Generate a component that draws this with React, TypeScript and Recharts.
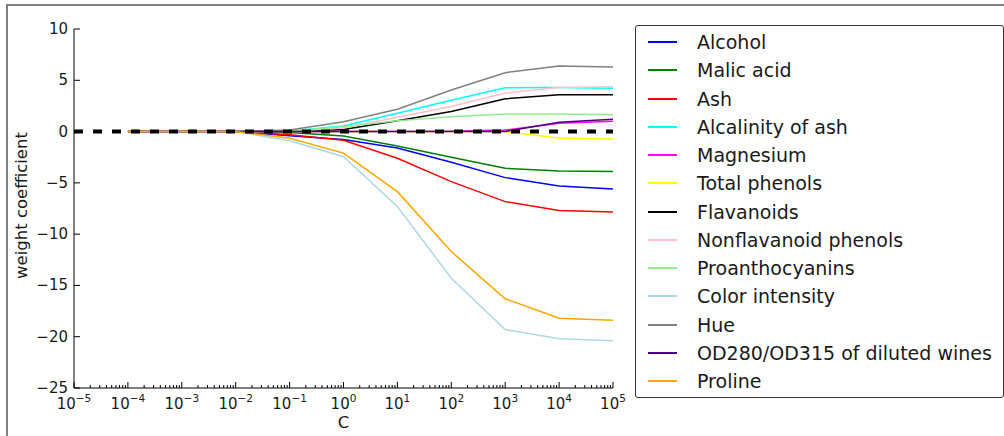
import { Label, Legend, Line, LineChart, ReferenceLine, XAxis, YAxis } from 'recharts';

// regularisation strength C = 10^exp
const exponents = [-4, -3, -2, -1, 0, 1, 2, 3, 4, 5];

const alcohol = [0, 0, 0, -0.4, -0.78, -1.6, -3.0, -4.49, -5.3, -5.6];
const malicAcid = [0, 0, 0, -0.1, -0.43, -1.4, -2.5, -3.58, -3.84, -3.9];
const ash = [0, 0, 0, -0.3, -0.85, -2.6, -4.88, -6.83, -7.7, -7.84];
const alcalinity = [0, 0, 0, 0.05, 0.55, 1.78, 3.05, 4.28, 4.3, 4.22];
const magnesium = [0, 0, 0, 0, 0, 0, 0.02, 0.15, 0.8, 1.0];
const totalPhenols = [0, 0, 0, 0, 0, 0, 0, -0.02, -0.62, -0.72];
const flavanoids = [0, 0, 0, 0, 0.2, 1.05, 1.95, 3.2, 3.58, 3.58];
const nonflavanoid = [0, 0, 0, 0.03, 0.35, 1.4, 2.45, 3.75, 4.3, 4.38];
const proanthocyanins = [0, 0, 0, 0.05, 0.48, 1.06, 1.45, 1.72, 1.72, 1.65];
const colorIntensity = [0, 0, 0, -0.9, -2.45, -7.3, -14.3, -19.3, -20.2, -20.4];
const hue = [0, 0, 0, 0.15, 0.95, 2.17, 4.05, 5.74, 6.39, 6.3];
const od280 = [0, 0, 0, 0, 0, 0, 0, 0, 0.9, 1.2];
const proline = [0, 0, 0, -0.65, -2.1, -5.86, -11.7, -16.3, -18.2, -18.4];

const featureNames = [
  'Alcohol',
  'Malic acid',
  'Ash',
  'Alcalinity of ash',
  'Magnesium',
  'Total phenols',
  'Flavanoids',
  'Nonflavanoid phenols',
  'Proanthocyanins',
  'Color intensity',
  'Hue',
  'OD280/OD315 of diluted wines',
  'Proline',
];
const featureColors = [
  'blue',
  'green',
  'red',
  'cyan',
  'magenta',
  'yellow',
  'black',
  'pink',
  'lightgreen',
  'lightblue',
  'gray',
  'indigo',
  'orange',
];
const featureWeights = [
  alcohol,
  malicAcid,
  ash,
  alcalinity,
  magnesium,
  totalPhenols,
  flavanoids,
  nonflavanoid,
  proanthocyanins,
  colorIntensity,
  hue,
  od280,
  proline,
];

const xMajorTicks = [-5, -4, -3, -2, -1, 0, 1, 2, 3, 4, 5];
const xMinorTicks = xMajorTicks
  .slice(0, -1)
  .flatMap((n) => [2, 3, 4, 5, 6, 7, 8, 9].map((k) => n + Math.log10(k)));
const xTicks = [...xMajorTicks, ...xMinorTicks];
const yTicks = [-25, -20, -15, -10, -5, 0, 5, 10];

const data = exponents.map((e, i) => {
  const row: Record<string, number> = { exp: e };
  featureWeights.forEach((w, j) => {
    row['f' + j] = w[i];
  });
  return row;
});

const FONT = 'DejaVu Sans';
const INK = '#1a1a1a';

const isMajor = (v: number) => Math.abs(v - Math.round(v)) < 1e-9;

function BottomTick({ x, y, payload }: any) {
  const major = isMajor(payload.value);
  const exp = Math.round(payload.value);
  return (
    <g>
      <line x1={x} y1={y} x2={x} y2={y - (major ? 6 : 3)} stroke="#000" />
      {major && (
        <text x={x} y={y + 20.5} textAnchor="middle" fontFamily={FONT} fontSize={15} fill={INK}>
          10
          <tspan dy={-7} fontSize={10.5}>
            {exp < 0 ? '\u2212' + Math.abs(exp) : String(exp)}
          </tspan>
        </text>
      )}
    </g>
  );
}

function TopTick({ x, y, payload }: any) {
  const major = isMajor(payload.value);
  return <line x1={x} y1={y} x2={x} y2={y + (major ? 6 : 3)} stroke="#000" />;
}

function LeftTick({ x, y, payload }: any) {
  const v = payload.value as number;
  return (
    <g>
      <line x1={x} y1={y} x2={x + 6} y2={y} stroke="#000" />
      <text x={x - 6} y={y + 5} textAnchor="end" fontFamily={FONT} fontSize={15} fill={INK}>
        {v < 0 ? '\u2212' + Math.abs(v) : String(v)}
      </text>
    </g>
  );
}

function RightTick({ x, y }: any) {
  return <line x1={x} y1={y} x2={x - 6} y2={y} stroke="#000" />;
}

function WeightLegend({ payload }: any) {
  // keep the plotting order instead of the library's alphabetical sort
  const items = [...(payload || [])].sort(
    (a: any, b: any) => featureNames.indexOf(a.value) - featureNames.indexOf(b.value),
  );
  return (
    <div
      style={{
        width: 367,
        border: '1px solid #333',
        borderRadius: 3,
        background: '#fff',
        padding: '2px 0',
        fontFamily: FONT,
        fontSize: 19,
        color: INK,
      }}
    >
      {items.map((entry: any) => (
        <div
          key={entry.value}
          style={{ display: 'flex', alignItems: 'center', height: 28.25, whiteSpace: 'nowrap' }}
        >
          <span
            style={{
              display: 'inline-block',
              width: 29,
              height: 2,
              background: entry.color,
              marginLeft: 12,
              marginRight: 20,
            }}
          />
          <span>{entry.value}</span>
        </div>
      ))}
    </div>
  );
}

export default function App() {
  return (
    <div
      style={{
        position: 'absolute',
        left: 0,
        top: 0,
        width: 1004,
        height: 436,
        background: '#fff',
        overflow: 'hidden',
      }}
    >
      <div
        style={{
          position: 'absolute',
          left: 6,
          top: 4,
          right: -10,
          bottom: -10,
          borderTop: '2px solid #808080',
          borderLeft: '2px solid #808080',
        }}
      />
      <LineChart
        width={1004}
        height={436}
        data={data}
        margin={{ top: 29, right: 391, bottom: 8, left: 14 }}
      >
        <XAxis
          xAxisId="b"
          type="number"
          dataKey="exp"
          domain={[-5, 5]}
          ticks={xTicks}
          interval={0}
          allowDataOverflow
          height={40}
          tickSize={0}
          tickMargin={0}
          tickLine={false}
          axisLine={{ stroke: '#000' }}
          tick={<BottomTick />}
        >
          <Label
            content={({ viewBox }: any) => (
              <text
                x={viewBox.x + viewBox.width / 2}
                y={viewBox.y + 40}
                textAnchor="middle"
                fontFamily={FONT}
                fontSize={16.5}
                fill={INK}
              >
                C
              </text>
            )}
          />
        </XAxis>
        <XAxis
          xAxisId="t"
          orientation="top"
          type="number"
          dataKey="exp"
          domain={[-5, 5]}
          ticks={xTicks}
          interval={0}
          allowDataOverflow
          height={0}
          tickSize={0}
          tickMargin={0}
          tickLine={false}
          axisLine={{ stroke: '#000' }}
          tick={<TopTick />}
        />
        <YAxis
          yAxisId="l"
          type="number"
          domain={[-25, 10]}
          ticks={yTicks}
          interval={0}
          allowDataOverflow
          width={60}
          tickSize={0}
          tickMargin={0}
          tickLine={false}
          axisLine={{ stroke: '#000' }}
          tick={<LeftTick />}
        >
          <Label
            content={({ viewBox }: any) => {
              const cx = viewBox.x + 7;
              const cy = viewBox.y + viewBox.height / 2 - 3;
              return (
                <text
                  x={cx}
                  y={cy}
                  transform={`rotate(-90, ${cx}, ${cy})`}
                  textAnchor="middle"
                  dominantBaseline="central"
                  fontFamily={FONT}
                  fontSize={16.5}
                  fill={INK}
                >
                  weight coefficient
                </text>
              );
            }}
          />
        </YAxis>
        <YAxis
          yAxisId="r"
          orientation="right"
          type="number"
          domain={[-25, 10]}
          ticks={yTicks}
          interval={0}
          allowDataOverflow
          width={0}
          tickSize={0}
          tickMargin={0}
          tickLine={false}
          axisLine={{ stroke: '#000' }}
          tick={<RightTick />}
        />
        <Legend
          layout="vertical"
          align="center"
          verticalAlign="middle"
          wrapperStyle={{ left: 635, top: 25 }}
          content={<WeightLegend />}
        />
        {featureNames.map((name, j) => (
          <Line
            key={name}
            xAxisId="b"
            yAxisId="l"
            type="linear"
            dataKey={'f' + j}
            name={name}
            stroke={featureColors[j]}
            strokeWidth={1.5}
            dot={false}
            isAnimationActive={false}
          />
        ))}
        <ReferenceLine
          xAxisId="b"
          yAxisId="l"
          y={0}
          stroke="#000"
          strokeWidth={4}
          strokeDasharray="9 10"
        />
      </LineChart>
    </div>
  );
}
